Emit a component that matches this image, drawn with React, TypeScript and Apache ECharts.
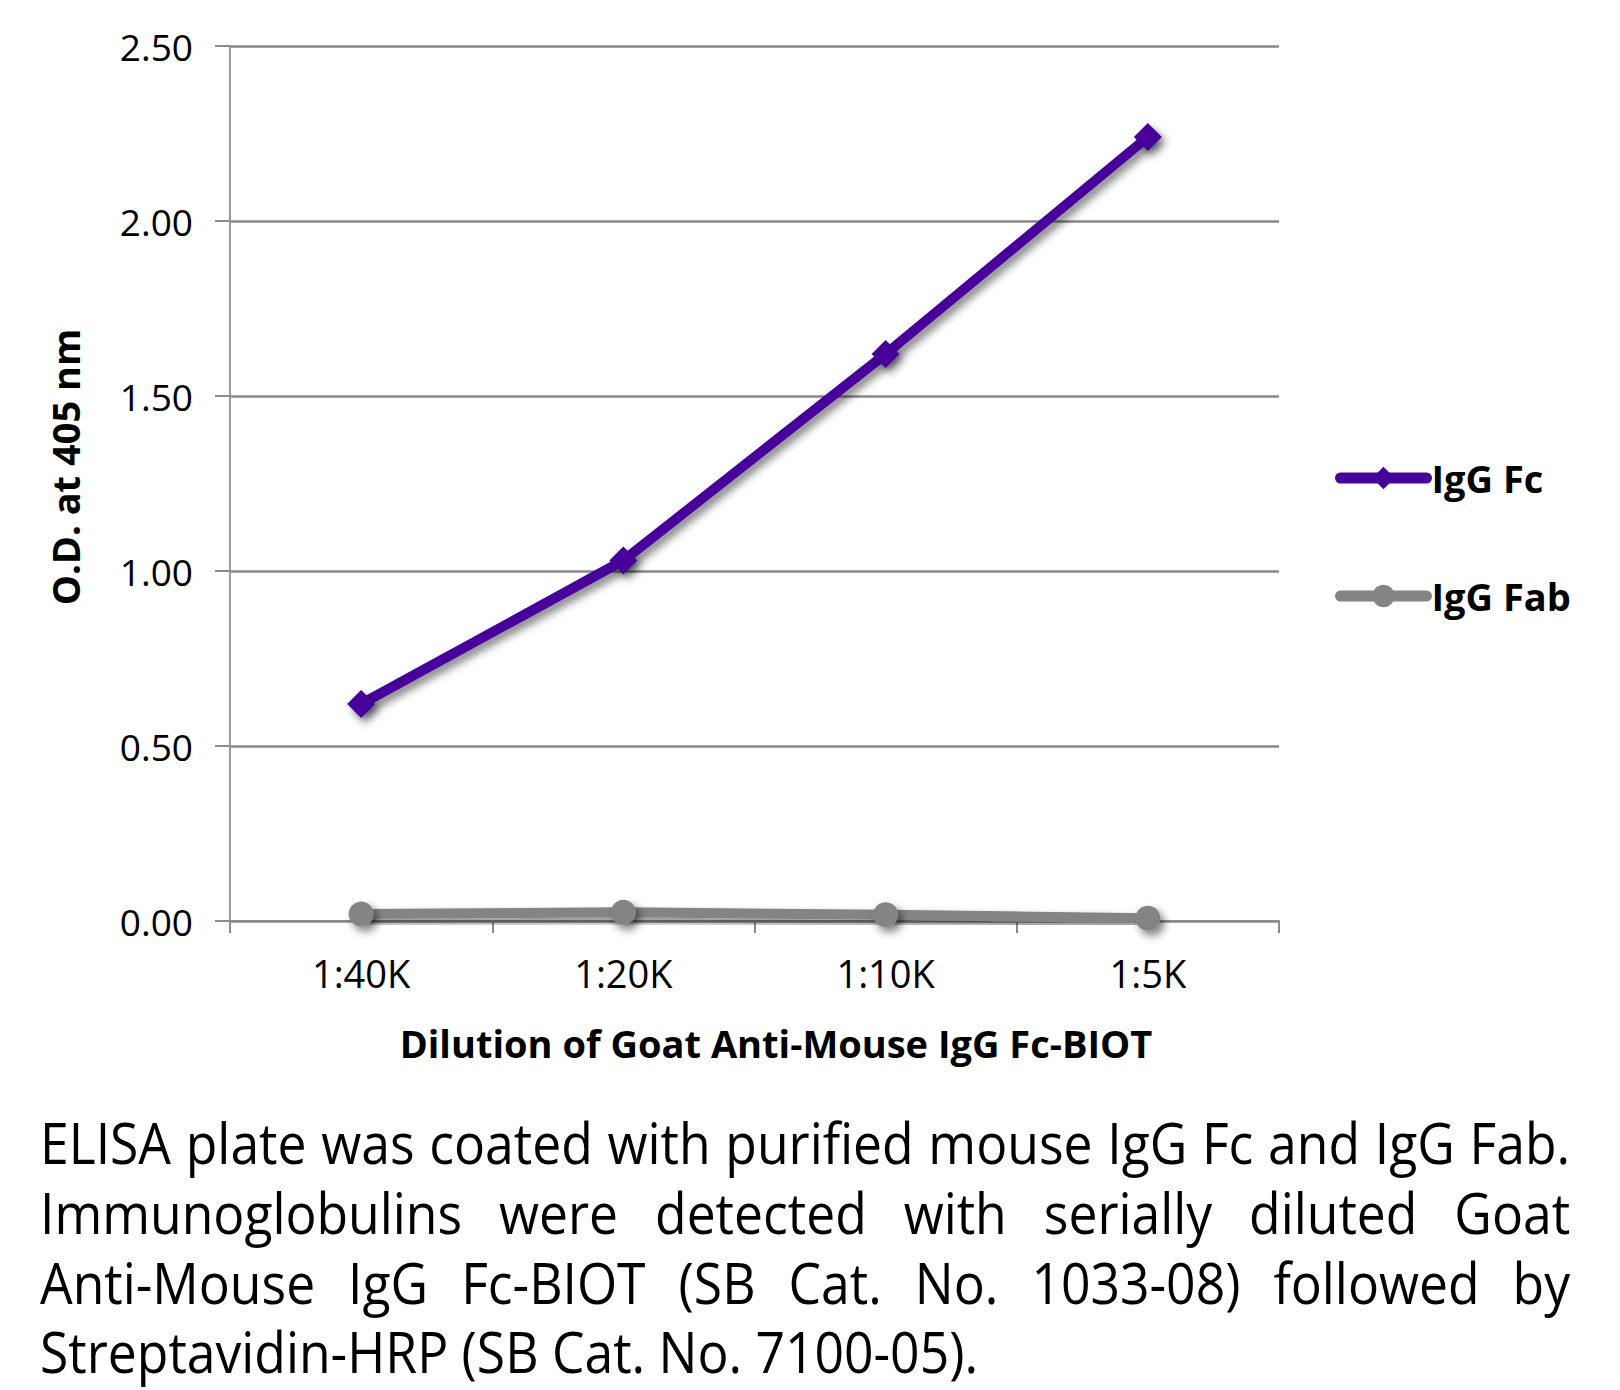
import React, { useEffect, useRef } from "react";
import * as echarts from "echarts";

const categories = ["1:40K", "1:20K", "1:10K", "1:5K"];
const iggFc = [0.62, 1.03, 1.62, 2.24];
const iggFab = [0.02, 0.025, 0.018, 0.008];
const seriesNames = ["IgG Fc", "IgG Fab"];
const xAxisTitle = "Dilution of Goat Anti-Mouse IgG Fc-BIOT";
const yAxisTitle = "O.D. at 405 nm";
const captionLines = [
  "ELISA plate was coated with purified mouse IgG Fc and IgG Fab.",
  "Immunoglobulins were detected with serially diluted Goat",
  "Anti-Mouse IgG Fc-BIOT (SB Cat. No. 1033-08) followed by",
  "Streptavidin-HRP (SB Cat. No. 7100-05).",
];

const FONT = '"Open Sans", sans-serif';
const PURPLE = "#46039A";
const GRAY = "#848484";

function buildCaption(): any[] {
  const canvas = document.createElement("canvas");
  const ctx = canvas.getContext("2d")!;
  const left = 40;
  const right = 1570;
  const W = right - left;
  const fs = 56;
  ctx.font = `400 ${fs}px "Open Sans"`;
  // reference face is narrower than Open Sans: fit the last (left-aligned) line's width
  const lastTarget = 980 - left;
  let sx = lastTarget / ctx.measureText(captionLines[3]).width;
  const nat0 = ctx.measureText(captionLines[0]).width * sx;
  if (nat0 > W * 0.99) sx = (sx * W * 0.99) / nat0;
  const baselines = [1163, 1233, 1303, 1372];
  const els: any[] = [];
  captionLines.forEach((line, i) => {
    const y = baselines[i] - 0.365 * fs;
    if (i === captionLines.length - 1) {
      els.push({
        type: "text",
        x: left,
        y,
        scaleX: sx,
        style: { text: line, fontSize: fs, fontFamily: FONT, fill: "#000", align: "left", verticalAlign: "middle" },
      });
      return;
    }
    const words = line.split(" ");
    const widths = words.map((w) => ctx.measureText(w).width * sx);
    const total = widths.reduce((a, b) => a + b, 0);
    const gap = (W - total) / (words.length - 1);
    let x = left;
    words.forEach((w, k) => {
      els.push({
        type: "text",
        x,
        y,
        scaleX: sx,
        style: { text: w, fontSize: fs, fontFamily: FONT, fill: "#000", align: "left", verticalAlign: "middle" },
      });
      x += widths[k] + gap;
    });
  });
  return els;
}

export default function App() {
  const ref = useRef<HTMLDivElement>(null);
  useEffect(() => {
    if (!ref.current) return;
    const chart = echarts.init(ref.current, null, { renderer: "svg" });
    const shadow = {
      shadowColor: "rgba(0,0,0,0.5)",
      shadowBlur: 8,
      shadowOffsetX: 4,
      shadowOffsetY: 5,
    };
    const noShadow = { shadowBlur: 0, shadowColor: "transparent", shadowOffsetX: 0, shadowOffsetY: 0 };
    chart.setOption({
      animation: false,
      backgroundColor: "#fff",
      grid: { left: 230, right: 341, top: 46, bottom: 469, containLabel: false },
      legend: {
        data: seriesNames,
        orient: "vertical",
        left: 1330,
        top: 452,
        itemWidth: 86,
        itemHeight: 28,
        itemGap: 76,
        textStyle: { fontFamily: FONT, fontWeight: "bold", fontSize: 38, color: "#000", lineHeight: 42 },
        lineStyle: { width: 11, ...noShadow },
        itemStyle: { ...noShadow },
      },
      xAxis: {
        type: "category",
        data: categories,
        boundaryGap: true,
        axisLine: { show: true, lineStyle: { color: "#8c8c8c", width: 2 } },
        axisTick: { show: true, length: 12, lineStyle: { color: "#8c8c8c", width: 2 } },
        axisLabel: { fontFamily: FONT, fontSize: 38, color: "#000", margin: 33 },
        splitLine: { show: false },
      },
      yAxis: {
        type: "value",
        min: 0,
        max: 2.5,
        interval: 0.5,
        axisLine: { show: true, lineStyle: { color: "#9a9a9a", width: 2 } },
        axisTick: { show: true, length: 15, lineStyle: { color: "#8c8c8c", width: 2 } },
        axisLabel: {
          fontFamily: FONT,
          fontSize: 37,
          color: "#000",
          margin: 37,
          formatter: (v: number) => v.toFixed(2),
        },
        splitLine: { show: true, lineStyle: { color: "#888", width: 2.5 } },
      },
      series: [
        {
          name: seriesNames[0],
          type: "line",
          data: iggFc,
          symbol: "diamond",
          symbolSize: 28,
          color: PURPLE,
          lineStyle: { width: 10, color: PURPLE, cap: "round", ...shadow },
          itemStyle: { color: PURPLE, ...shadow },
          z: 3,
        },
        {
          name: seriesNames[1],
          type: "line",
          data: iggFab,
          symbol: "circle",
          symbolSize: 25,
          color: GRAY,
          lineStyle: { width: 10, color: GRAY, cap: "round", ...shadow },
          itemStyle: { color: GRAY, ...shadow },
          z: 2,
        },
      ],
      graphic: [
        {
          type: "text",
          x: 65,
          y: 467,
          rotation: Math.PI / 2,
          style: {
            text: yAxisTitle,
            fontFamily: FONT,
            fontWeight: "bold",
            fontSize: 38,
            fill: "#000",
            align: "center",
            verticalAlign: "middle",
          },
        },
        {
          type: "text",
          x: 776,
          y: 1043,
          style: {
            text: xAxisTitle,
            fontFamily: FONT,
            fontWeight: "bold",
            fontSize: 38,
            fill: "#000",
            align: "center",
            verticalAlign: "middle",
          },
        },
        ...buildCaption(),
      ],
    });
    return () => chart.dispose();
  }, []);
  return (
    <div
      ref={ref}
      style={{ position: "absolute", left: 0, top: 0, width: 1620, height: 1390, background: "#fff" }}
    />
  );
}
